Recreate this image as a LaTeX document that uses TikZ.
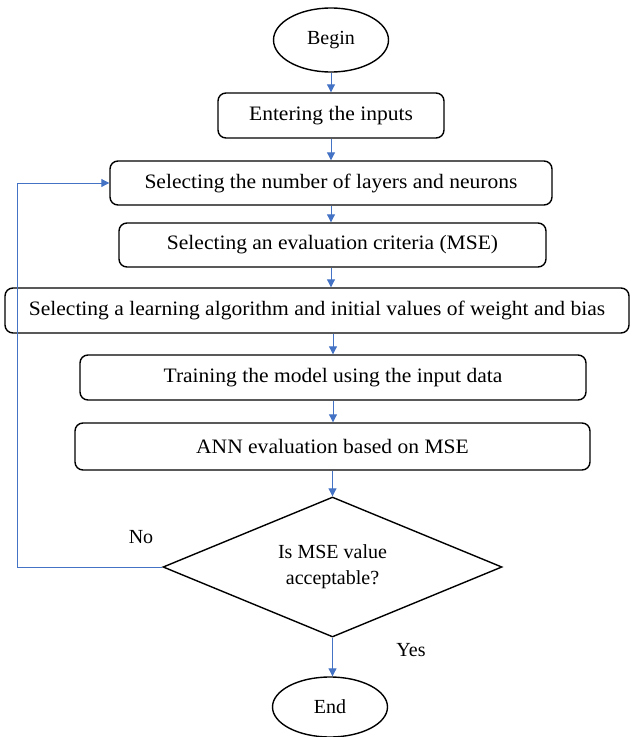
\documentclass[tikz,border=0pt]{standalone}
\usepackage{fontspec}
\setmainfont{Liberation Serif}
\newfontfamily\boxfont{Liberation Serif}[FakeStretch=1.05]
\usetikzlibrary{shapes.geometric,arrows.meta}
\definecolor{arrowblue}{HTML}{4472C4}
\begin{document}
\begin{tikzpicture}[x=1pt,y=-1pt,
  stepbox/.style={draw=black,line width=1.4pt,rounded corners=8pt,inner sep=0pt,font=\boxfont\fontsize{20.5}{24}\selectfont},
  term/.style={draw=black,line width=1.4pt,ellipse,inner sep=0pt,minimum width=115pt,minimum height=64pt,font=\fontsize{20}{24}\selectfont},
  decision/.style={draw=black,line width=1.4pt,diamond,inner sep=0pt,aspect=2.42,minimum width=339pt,minimum height=140pt,align=center,font=\fontsize{20}{26}\selectfont},
  flow/.style={draw=arrowblue,line width=1pt,-{Triangle[length=8pt,width=8pt]}},
  lbl/.style={font=\fontsize{20}{24}\selectfont}]
\useasboundingbox (0,0) rectangle (633,737);
\node[term] (begin) at (331,40) {Begin};
\node[stepbox,minimum width=226pt,minimum height=45pt] (b1) at (331,115.5) {Entering the inputs};
\node[stepbox,minimum width=442pt,minimum height=44pt] (b2) at (331,183) {Selecting the number of layers and neurons};
\node[stepbox,minimum width=427pt,minimum height=44pt] (b3) at (332.5,245) {Selecting an evaluation criteria (MSE)};
\node[stepbox,minimum width=624pt,minimum height=45pt] (b4) at (317,310.5) {Selecting a learning algorithm and initial values of weight and bias};
\node[stepbox,minimum width=506pt,minimum height=45pt] (b5) at (333,377.5) {Training the model using the input data};
\node[stepbox,minimum width=515pt,minimum height=47pt] (b6) at (332.5,446.5) {ANN evaluation based on MSE};
\node[decision] (dec) at (332.5,567) {Is MSE value\\acceptable?};
\node[term,minimum height=60pt] (end) at (330,707) {End};
\coordinate (loopb) at (17,567);
\coordinate (loopt) at (17,183);
\node[lbl] (no) at (141,537) {No};
\node[lbl] (yes) at (411,650) {Yes};
\draw[flow] (begin.south) -- (begin.south |- b1.north);
\draw[flow] (b1.south) -- (b1.south |- b2.north);
\draw[flow] (b2.south) -- (b2.south |- b3.north);
\draw[flow] (b3.south -| b1.south) -- (b1.south |- b4.north);
\draw[flow] (b4.south -| b5.north) -- (b5.north);
\draw[flow] (b5.south) -- (b5.south |- b6.north);
\draw[flow] (b6.south -| dec.north) -- (dec.north);
\draw[flow] (dec.south) -- (dec.south |- end.north);
\draw[flow] (dec.west) -- (loopb) -- (loopt) -- (b2.west);
\end{tikzpicture}
\end{document}
